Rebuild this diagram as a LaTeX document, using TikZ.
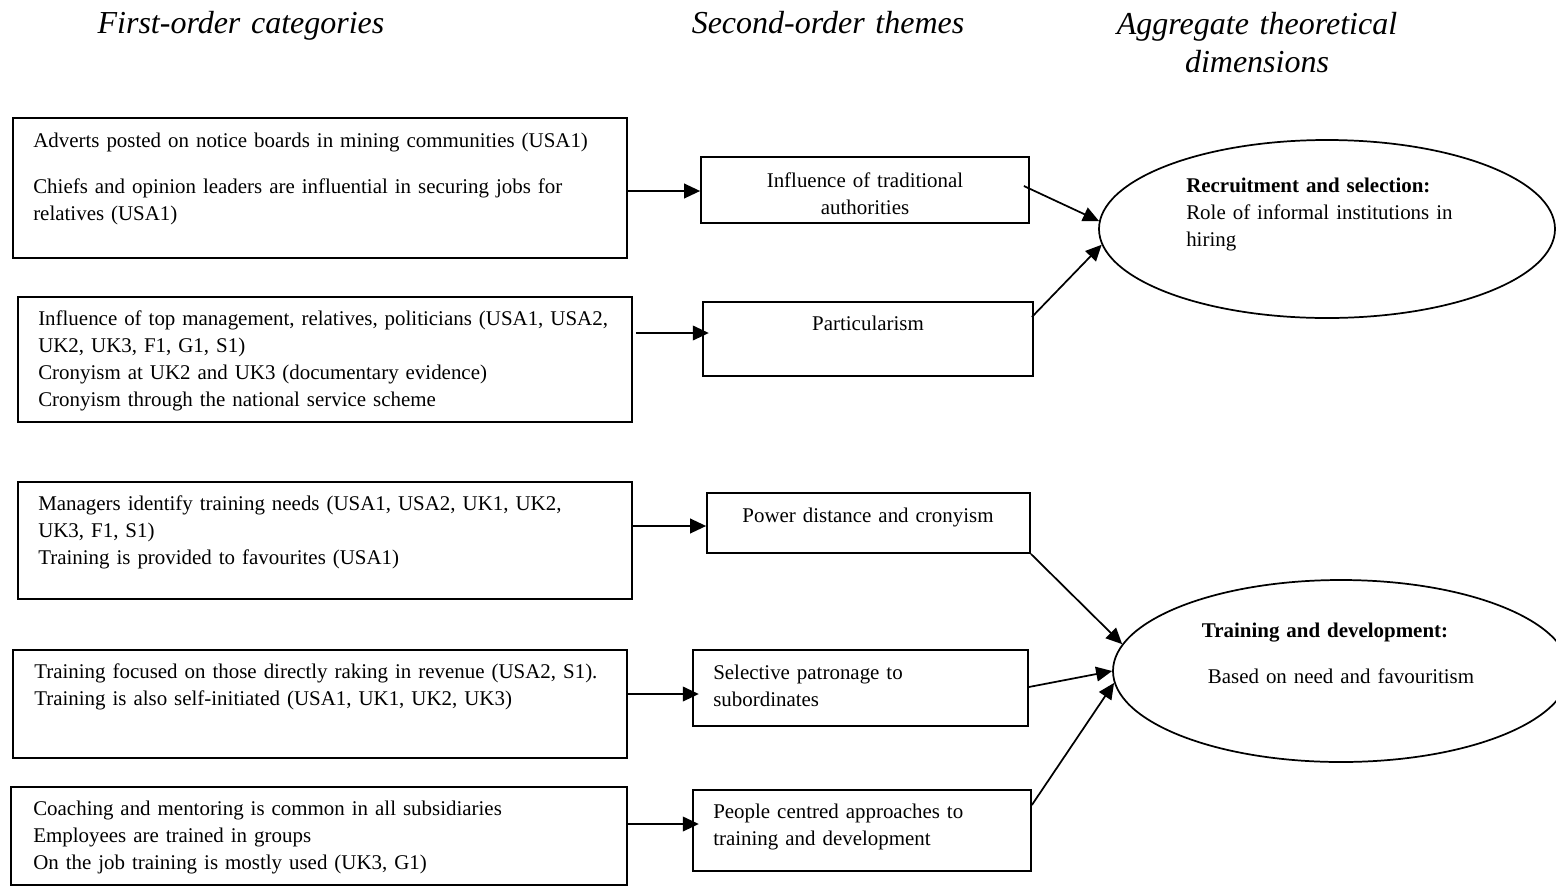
\documentclass[tikz,border=0pt]{standalone}
\usepackage{fontspec}
\setmainfont{Liberation Serif}
\usetikzlibrary{arrows.meta,shapes.geometric,fit}
\begin{document}
\begin{tikzpicture}[x=0.75pt,y=-0.75pt,
  box/.style={draw, line width=1.3pt, inner sep=0pt, rectangle},
  oval/.style={draw, line width=1.3pt, ellipse, inner sep=0pt, minimum width=342pt},
  arr/.style={line width=1.3pt, -{Triangle[length=12pt,width=11pt]}},
  body/.style={font=\fontsize{15.7}{20.25}\selectfont, inner sep=0pt, anchor=base west, text width=450pt, align=left},
  mid/.style={font=\fontsize{15.7}{20.25}\selectfont, inner sep=0pt, anchor=base, text width=240pt, align=center},
  head/.style={font=\fontsize{24}{29}\selectfont\itshape, inner sep=0pt, anchor=base, text width=300pt, align=center}]
\useasboundingbox (0,0) rectangle (1556,886);
\clip (0,0) rectangle (1556,886);

% column headings
\node[head] (h1) at (241,33) {First-order categories};
\node[head] (h2) at (828,33) {Second-order themes};
\node[head] (h3) at (1257,34) {Aggregate theoretical\\dimensions};

% first-order categories
\node[box, fit={(13,118) (627,258)}] (b1) {};
\node[body] (b1t) at (33,147) {Adverts posted on notice boards in mining communities (USA1)\\[14.5pt]
  Chiefs and opinion leaders are influential in securing jobs for\\relatives (USA1)};
\node[box, fit={(18,297) (632,422)}] (b2) {};
\node[body] (b2t) at (38,325) {Influence of top management, relatives, politicians (USA1, USA2,\\
  UK2, UK3, F1, G1, S1)\\Cronyism at UK2 and UK3 (documentary evidence)\\
  Cronyism through the national service scheme};
\node[box, fit={(18,482) (632,599)}] (b3) {};
\node[body] (b3t) at (38,510) {Managers identify training needs (USA1, USA2, UK1, UK2,\\
  UK3, F1, S1)\\Training is provided to favourites (USA1)};
\node[box, fit={(13,650) (627,758)}] (b4) {};
\node[body] (b4t) at (34,678) {Training focused on those directly raking in revenue (USA2, S1).\\
  Training is also self-initiated (USA1, UK1, UK2, UK3)};
\node[box, fit={(11,787) (627,885)}] (b5) {};
\node[body] (b5t) at (33,815) {Coaching and mentoring is common in all subsidiaries\\
  Employees are trained in groups\\On the job training is mostly used (UK3, G1)};

% second-order themes
\node[box, fit={(701,157) (1029,223)}] (t1) {};
\node[mid] (t1t) at (865,187) {Influence of traditional\\authorities};
\node[box, fit={(703,302) (1033,376)}] (t2) {};
\node[mid] (t2t) at (868,330) {Particularism};
\node[box, fit={(707,493) (1030,553)}] (t3) {};
\node[mid] (t3t) at (868,522) {Power distance and cronyism};
\node[box, fit={(693,650) (1028,726)}] (t4) {};
\node[body] (t4t) at (713,679) {Selective patronage to\\subordinates};
\node[box, fit={(693,790) (1031,871)}] (t5) {};
\node[body] (t5t) at (713,818) {People centred approaches to\\training and development};

% aggregate dimensions
\node[oval, minimum height=133.5pt] (e1) at (1327,229) {};
\node[body, text width=240pt] (e1t) at (1186,192) {\textbf{Recruitment and selection:}\\
  Role of informal institutions in\\hiring};
\node[oval, minimum height=136.5pt] (e2) at (1341,671) {};
\node[mid, text width=260pt] (e2a) at (1325,637) {\textbf{Training and development:}};
\node[mid, text width=260pt] (e2b) at (1341,683) {Based on need and favouritism};

% first-order to second-order
\draw[arr] (b1.east |- 0,191) -- (t1.west |- 0,191);
\draw[arr] ([xshift=2.25pt]b2.east |- 0,333) -- ([xshift=5pt]t2.west |- 0,333);
\draw[arr] (b3.east |- 0,526) -- (t3.west |- 0,526);
\draw[arr] (b4.east |- 0,694) -- ([xshift=5pt]t4.west |- 0,694);
\draw[arr] (b5.east |- 0,824) -- ([xshift=5pt]t5.west |- 0,824);

% second-order to aggregate
\draw[arr] ([xshift=-4.5pt]t1.east |- 0,186) -- (e1.178.5);
\draw[arr] ([xshift=-1.5pt]t2.east |- 0,317) -- (e1.184.5);
\draw[arr] (t3.south east) -- (e2.173.3);
\draw[arr] (t4.east |- 0,687) -- (e2.west);
\draw[arr] (t5.east |- 0,805) -- (e2.183.3);
\end{tikzpicture}
\end{document}
